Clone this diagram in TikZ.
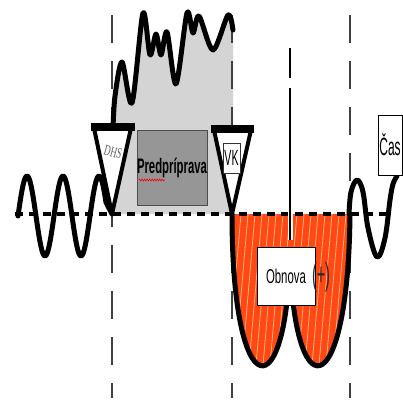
\documentclass[tikz,border=0pt]{standalone}
\usepackage{fontspec}
\setmainfont{Liberation Sans}
\newfontfamily\serifdhs{Liberation Serif}
\usetikzlibrary{decorations.pathmorphing}
\definecolor{redfill}{RGB}{255,72,20}
\definecolor{hatchcol}{RGB}{255,178,120}
\definecolor{grayfill}{RGB}{212,212,212}
\definecolor{boxgray}{RGB}{150,150,150}
\begin{document}
\begin{tikzpicture}[x=1pt,y=-1pt,
  wave/.style={line width=5pt, line cap=round, line join=round},
  vdash/.style={draw=black!75, line width=1.5pt, dash pattern=on 28pt off 18pt},
  tri/.style={draw=black, fill=white, line width=4pt, line join=round},
  topbar/.style={line width=8pt},
  labelbox/.style={draw=black, fill=white, line width=1pt, inner sep=0pt},
]
\fill[white] (0,0) rectangle (403,400);
\useasboundingbox (0,0) rectangle (403,400);

% gray region (Predpriprava)
\fill[grayfill] (113,214) -- (113,128) -- plot[smooth] coordinates {(113,128) (115,96) (122,62) (132,103) (143,13) (150,55) (156,34) (161,55) (167,32) (176,84) (187,13) (193,33) (199,16) (213,50) (228,15) (233,30)} -- (233,214) -- cycle;

% vertical dashed lines
\draw[vdash] (112,15) -- (112,398);
\draw[vdash] (232,15) -- (232,398);
\draw[vdash] (350,15) -- (350,398);

% red region (Obnova)
\fill[redfill] (232,214) .. controls (232,410) and (288,410) .. (290,250) .. controls (292,410) and (348,410) .. (350,214) -- cycle;
\begin{scope}
  \clip (232,214) .. controls (232,410) and (288,410) .. (290,250) .. controls (292,410) and (348,410) .. (350,214) -- cycle;
  \foreach \i in {190,197,...,360} \draw[hatchcol, line width=0.8pt] (\i,400) -- (\i+16,214);
\end{scope}

% baseline
\draw[line width=3.5pt, dash pattern=on 8pt off 6pt] (15,214) -- (392,214);

% waves
\draw[wave] plot[domain=18:106, samples=89] (\x, {216-40*sin((\x-18)*10)}) -- (112,214);
\draw[wave] plot[smooth] coordinates {(113,128) (115,96) (122,62) (132,103) (143,13) (150,55) (156,34) (161,55) (167,32) (176,84) (187,13) (193,33) (199,16) (213,50) (228,15) (233,30)};
\draw[wave] (232,214) .. controls (232,410) and (288,410) .. (290,250) .. controls (292,410) and (348,410) .. (350,214);
\draw[wave] plot[smooth, tension=0.6] coordinates {(349,214) (351,192) (357,180) (363,192) (368,228) (377,257) (385,238) (390,200) (393,184) (397,176)};

% solid vertical marker
\draw[white, line width=5pt] (290,88) -- (290,240);
\draw[line width=2.5pt] (290,48) -- (290,78) (290,88) -- (290,240);

% triangles
\draw[tri] (94,128) -- (131,128) -- (112,214) -- cycle;
\draw[topbar] (91,127) -- (135,127);
\draw[tri] (214,130) -- (251,130) -- (232,214) -- cycle;
\draw[topbar] (211,129) -- (254,129);

% labels
\node[text=black!60, rotate=-15, inner sep=0pt] (dhs) at (113,152) {\scalebox{0.6}[1]{\serifdhs\fontsize{15}{15}\selectfont DHS}};
\node[labelbox, draw=black!80, minimum width=17pt, minimum height=30pt] (vk) at (231.5,158) {\scalebox{0.48}[1]{\fontsize{22}{22}\selectfont VK}};

\node[draw=black!70, fill=boxgray, line width=1pt, minimum width=70pt, minimum height=75pt, inner sep=0pt] (prep) at (172,167.5) {};
\node[anchor=base, inner sep=0pt] (preptext) at (172,173) {\scalebox{0.54}[1]{\fontsize{21}{21}\selectfont\bfseries Predpríprava}};
\draw[red, line width=0.6pt, decorate, decoration={zigzag, segment length=2.5pt, amplitude=1pt}] (139,180) -- (165,180);

\node[labelbox, minimum width=58pt, minimum height=58pt] (obnova) at (286,276) {\scalebox{0.57}[1]{\fontsize{20}{20}\selectfont Obnova}};
\node[text=black!85, inner sep=0pt] (plus) at (321,277) {\scalebox{0.45}[1]{\fontsize{32}{32}\selectfont (+)}};

\node[labelbox, minimum width=24pt, minimum height=60pt] (cas) at (390,145) {\scalebox{0.48}[1]{\fontsize{25}{25}\selectfont Čas}};
\end{tikzpicture}
\end{document}
